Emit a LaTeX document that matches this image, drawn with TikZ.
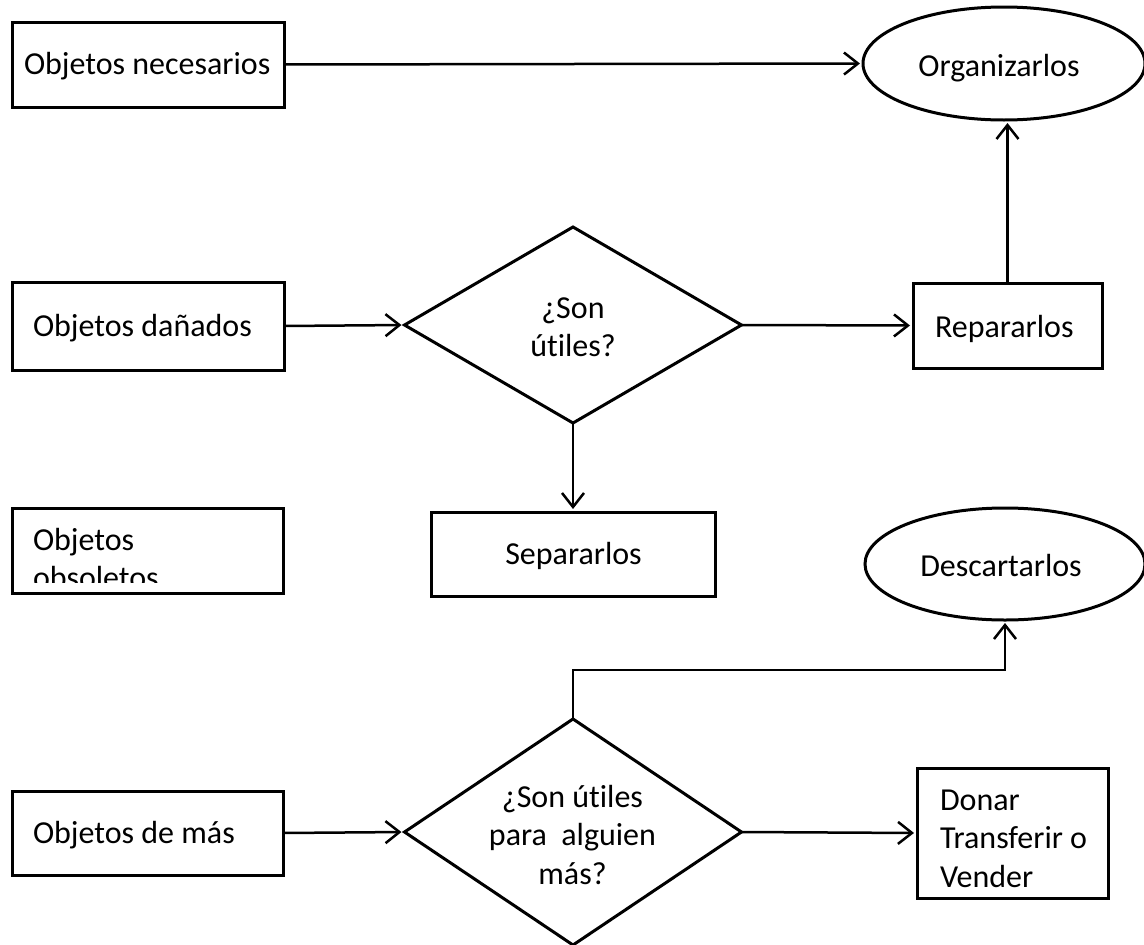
\documentclass[tikz,border=0pt]{standalone}
\usepackage{fontspec}
\setmainfont{Carlito}[Ligatures=NoCommon]
\usetikzlibrary{shapes.geometric,arrows.meta}
% several lines stacked, the baseline being that of the first line
\newcommand{\mlines}[2]{\begin{tabular}[t]{@{}#1@{}}#2\end{tabular}}
\begin{document}
\begin{tikzpicture}[x=1pt,y=-1pt,
  shp/.style={draw, line width=3pt, inner sep=0pt, outer sep=0pt},
  boxshape/.style={shp, rectangle},
  ovalshape/.style={shp, ellipse},
  decision/.style={shp, diamond},
  txt/.style={inner sep=0pt, outer sep=0pt, font=\fontsize{32}{38.5}\selectfont},
  conn/.style={line width=2.5pt,
    -{Straight Barb[length=14pt,width=22pt]}, shorten >=3pt},
]
\useasboundingbox (0,0) rectangle (1144,945);

% shapes
\node[boxshape, minimum width=272pt, minimum height=85pt] (nec) at (148,64.5) {};
\node[boxshape, minimum width=272pt, minimum height=88pt] (dan) at (148,326) {};
\node[boxshape, minimum width=271pt, minimum height=85pt] (obs) at (147.5,550.5) {};
\node[boxshape, minimum width=271pt, minimum height=84pt] (mas) at (147.5,833) {};
\node[boxshape, minimum width=189pt, minimum height=85pt] (rep) at (1007.5,325.5) {};
\node[boxshape, minimum width=284pt, minimum height=84pt] (sep) at (573,554) {};
\node[boxshape, minimum width=191pt, minimum height=130pt] (don) at (1012.5,833) {};
\node[ovalshape, minimum width=282pt, minimum height=113pt] (org) at (1004,63.5) {};
\node[ovalshape, minimum width=280pt, minimum height=112pt] (desc) at (1005,564) {};
\node[decision, minimum width=337pt, minimum height=196pt] (d1) at (573,325) {};
\node[decision, minimum width=337pt, minimum height=226pt] (d2) at (573,832) {};

% labels
\node[txt, anchor=base west] (tnec) at (24,74) {Objetos necesarios};
\node[txt, anchor=base] (torg) at (999,76) {Organizarlos};
\node[txt, anchor=base west] (tdan) at (33,336) {Objetos dañados};
\node[txt, anchor=base] (td1) at (573,318) {\mlines{c}{¿Son\\útiles?}};
\node[txt, anchor=base west] (trep) at (935,337) {Repararlos};
\node[txt, anchor=base] (tsep) at (573.5,564) {Separarlos};
\begin{scope}
  \clip (14,510) rectangle (281,582);
  \node[txt, anchor=base west] (tobs) at (33,550) {\mlines{l}{Objetos\\obsoletos}};
\end{scope}
\node[txt, anchor=base] (tdesc) at (1001,576) {Descartarlos};
\node[txt, anchor=base] (td2) at (572.5,807) {\mlines{c}{¿Son útiles\\para\ \ alguien\\más?}};
\node[txt, anchor=base west] (tmas) at (33,843) {Objetos de más};
\node[txt, anchor=base west] (tdon) at (940,810) {\mlines{l}{Donar\\Transferir o\\Vender}};

% connectors
\coordinate (turn) at (573,670);
\draw[conn] (nec.east) -- (org.west);
\draw[conn] (dan.east) -- (d1.west);
\draw[conn] (d1.east) -- (rep.west);
\draw[conn] (d1.south) -- (sep.north);
\draw[conn] (rep.north) -- (rep.north |- org.south);
\draw[conn] (mas.east) -- (d2.west);
\draw[conn] (d2.east) -- (don.west);
\draw[conn] (d2.north) -- (turn) -| (desc.south);
\end{tikzpicture}
\end{document}
